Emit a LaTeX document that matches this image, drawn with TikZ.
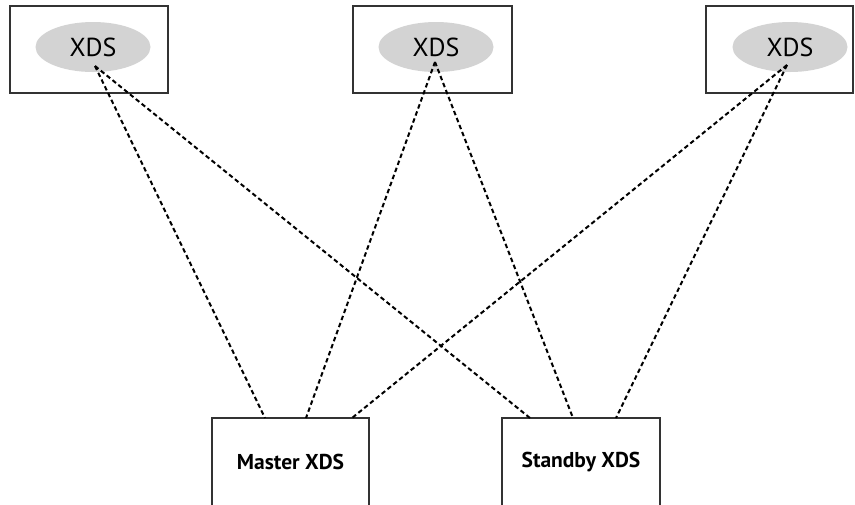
\documentclass[tikz,border=0pt]{standalone}
\usepackage{fontspec}
\setmainfont{PT Sans}
\usetikzlibrary{shapes.geometric}
\definecolor{ellgrey}{HTML}{D3D3D3}
\definecolor{boxline}{HTML}{333333}
\tikzset{
  box/.style={draw=boxline, line width=1.4pt, fill=white},
  xdsell/.style={ellipse, fill=ellgrey, draw=none, minimum width=115pt, minimum height=50pt, inner sep=0pt, font=\fontsize{26}{28}\selectfont},
  link/.style={draw=black, line width=2pt, dash pattern=on 4.5pt off 3pt},
  mlabel/.style={font=\bfseries\fontsize{21.5}{24}\selectfont}
}
\begin{document}
\begin{tikzpicture}[x=1pt,y=-1pt]
\useasboundingbox (0,0) rectangle (855,504);
\begin{scope}
\clip (0,0) rectangle (855,504);
% top boxes
\draw[box] (10,6) rectangle (168,93);
\draw[box] (353,6) rectangle (512,93);
\draw[box] (706,6) rectangle (853,93);
\node[xdsell] (e1) at (93,47) {XDS};
\node[xdsell] (e2) at (436,47) {XDS};
\node[xdsell] (e3) at (790,47) {XDS};
% bottom boxes
\draw[box] (212,418) rectangle (369,520);
\draw[box] (502,418) rectangle (660,520);
\node[mlabel] (m) at (290.5,462) {Master XDS};
\node[mlabel] (s) at (581,462) {Standby XDS};
\end{scope}
% endpoints
\coordinate (t1) at (95,66);
\coordinate (t2) at (435,62);
\coordinate (t3) at (787,65);
\coordinate (m1) at (265,418);
\coordinate (m2) at (306,418);
\coordinate (m3) at (352,418);
\coordinate (s1) at (530,418);
\coordinate (s2) at (573,418);
\coordinate (s3) at (616,418);
\draw[link] (t1) -- (m1);
\draw[link] (t1) -- (s1);
\draw[link] (t2) -- (m2);
\draw[link] (t2) -- (s2);
\draw[link] (t3) -- (m3);
\draw[link] (t3) -- (s3);
\end{tikzpicture}
\end{document}
